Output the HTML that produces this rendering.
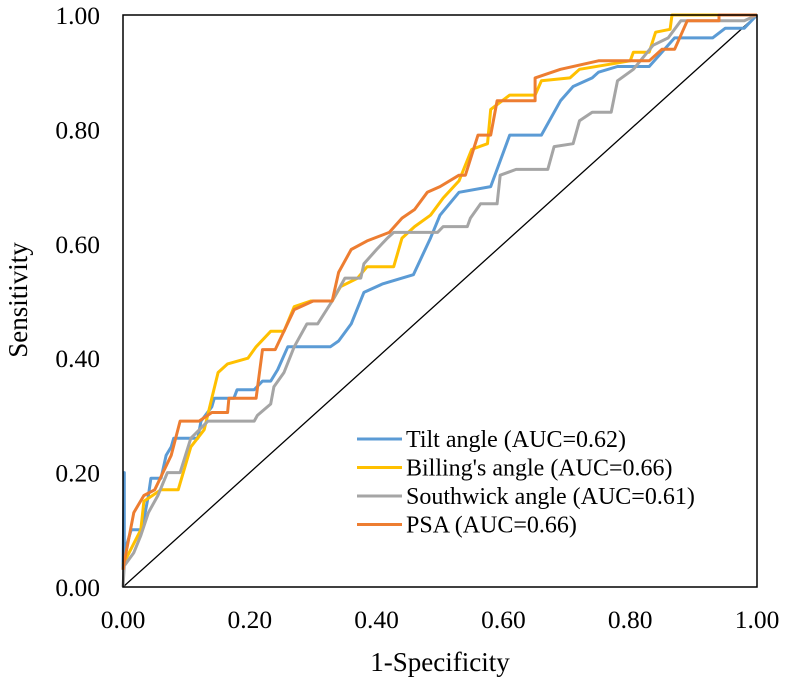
<!DOCTYPE html>
<html><head><meta charset="utf-8"><style>
html,body{margin:0;padding:0;background:#fff;}
svg{display:block;font-family:"Liberation Serif",serif;}
</style></head><body>
<svg id="chart" width="787" height="687" viewBox="0 0 787 687">
<g id="plot"></g>
</svg>
<script>
const xTicks=[0,0.2,0.4,0.6,0.8,1.0];
const yTicks=[0,0.2,0.4,0.6,0.8,1.0];
const tickLabels=["0.00","0.20","0.40","0.60","0.80","1.00"];
const seriesNames=["Tilt angle (AUC=0.62)","Billing's angle (AUC=0.66)","Southwick angle (AUC=0.61)","PSA (AUC=0.66)"];
const seriesColors=["#5b9bd5","#ffc000","#a5a5a5","#ed7d31"];
const tiltX=[0,0.002,0.002,0.013,0.03,0.04,0.044,0.06,0.068,0.076,0.08,0.118,0.123,0.14,0.144,0.175,0.18,0.207,0.22,0.233,0.244,0.26,0.327,0.34,0.36,0.38,0.41,0.458,0.485,0.5,0.53,0.58,0.61,0.66,0.69,0.71,0.74,0.75,0.78,0.83,0.87,0.93,0.95,0.98,1];
const tiltY=[0.03,0.2,0.06,0.1,0.1,0.16,0.19,0.19,0.23,0.245,0.26,0.26,0.29,0.315,0.33,0.33,0.345,0.345,0.36,0.36,0.38,0.42,0.42,0.43,0.46,0.515,0.53,0.546,0.61,0.65,0.69,0.70,0.79,0.79,0.85,0.875,0.89,0.90,0.91,0.91,0.96,0.96,0.977,0.977,1];
const billX=[0,0.005,0.028,0.033,0.06,0.087,0.107,0.128,0.14,0.15,0.165,0.197,0.21,0.233,0.254,0.27,0.296,0.33,0.343,0.37,0.385,0.427,0.44,0.46,0.485,0.505,0.53,0.55,0.575,0.58,0.61,0.65,0.66,0.705,0.72,0.80,0.805,0.83,0.84,0.863,0.866,1];
const billY=[0.04,0.05,0.10,0.15,0.17,0.17,0.245,0.275,0.33,0.375,0.39,0.40,0.42,0.447,0.447,0.49,0.50,0.50,0.525,0.54,0.56,0.56,0.61,0.63,0.65,0.68,0.71,0.765,0.775,0.835,0.86,0.86,0.885,0.89,0.905,0.92,0.935,0.935,0.97,0.975,1,1];
const southX=[0,0.002,0.017,0.028,0.04,0.055,0.07,0.09,0.107,0.134,0.207,0.212,0.233,0.238,0.254,0.27,0.29,0.307,0.33,0.35,0.375,0.38,0.40,0.417,0.427,0.496,0.505,0.543,0.548,0.564,0.59,0.595,0.62,0.67,0.68,0.71,0.72,0.74,0.77,0.78,0.805,0.836,0.86,0.88,0.98,1];
const southY=[0,0.037,0.06,0.09,0.13,0.16,0.20,0.20,0.26,0.29,0.29,0.30,0.32,0.35,0.375,0.42,0.46,0.46,0.50,0.54,0.54,0.565,0.59,0.61,0.62,0.62,0.63,0.63,0.645,0.67,0.67,0.72,0.73,0.73,0.77,0.775,0.815,0.83,0.83,0.885,0.905,0.947,0.96,0.99,0.99,1];
const psaX=[0,0.002,0.017,0.033,0.05,0.076,0.09,0.12,0.14,0.165,0.167,0.21,0.22,0.24,0.27,0.30,0.33,0.34,0.36,0.385,0.42,0.44,0.46,0.48,0.50,0.53,0.54,0.56,0.58,0.59,0.65,0.65,0.69,0.75,0.83,0.85,0.87,0.89,0.94,0.94,1];
const psaY=[0.03,0.044,0.13,0.16,0.17,0.23,0.29,0.29,0.305,0.305,0.33,0.33,0.415,0.415,0.485,0.50,0.50,0.55,0.59,0.605,0.62,0.645,0.66,0.69,0.70,0.72,0.72,0.79,0.79,0.85,0.85,0.89,0.905,0.92,0.92,0.94,0.94,0.99,0.99,1,1];
const allX=[tiltX,billX,southX,psaX];
const allY=[tiltY,billY,southY,psaY];

const L=123,R=757,T=15,B=587;
const sx=v=>L+v*(R-L), sy=v=>B-v*(B-T);
const NS="http://www.w3.org/2000/svg";
const svg=document.getElementById('chart');
const plot=document.getElementById('plot');
function mk(tag,attrs,parent){const e=document.createElementNS(NS,tag);for(const k in attrs)e.setAttribute(k,attrs[k]);(parent||svg).appendChild(e);return e;}

const diag=mk('line',{x1:sx(0),y1:sy(0),x2:sx(1),y2:sy(1),stroke:'#000','stroke-width':1.3},plot);



for(let s=0;s<4;s++){
  const pts=allX[s].map((x,i)=>sx(x).toFixed(1)+','+sy(allY[s][i]).toFixed(1)).join(' ');
  const pl=mk('polyline',{points:pts,fill:'none',stroke:seriesColors[s],'stroke-width':3,'stroke-linejoin':'round'},plot);
  
  
}

const frame=mk('rect',{x:L,y:T,width:R-L,height:B-T,fill:'none',stroke:'#000','stroke-width':1.5});



yTicks.forEach((v,i)=>{
  const t=mk('text',{x:100,y:sy(v)+9,'text-anchor':'end','font-size':25.5,fill:'#000'});
  t.textContent=tickLabels[i];
  
  
});
xTicks.forEach((v,i)=>{
  const t=mk('text',{x:sx(v),y:628,'text-anchor':'middle','font-size':25.5,fill:'#000'});
  t.textContent=tickLabels[i];
  
  
});
const xt=mk('text',{x:440,y:671,'text-anchor':'middle','font-size':27,fill:'#000'});
xt.textContent='1-Specificity';


const yt=mk('text',{x:0,y:0,'text-anchor':'middle','font-size':27,fill:'#000',transform:'translate(27,300) rotate(-90)'});
yt.textContent='Sensitivity';



const legend=mk('g',{});


seriesNames.forEach((n,i)=>{
  const y=439+i*28.5;
  const g=mk('g',{},legend);
  
  
  mk('line',{x1:357,y1:y,x2:402,y2:y,stroke:seriesColors[i],'stroke-width':3},g);
  const t=mk('text',{x:406,y:y+8,'font-size':24,fill:'#000'},g);
  t.textContent=n;
});
</script>
</body></html>
